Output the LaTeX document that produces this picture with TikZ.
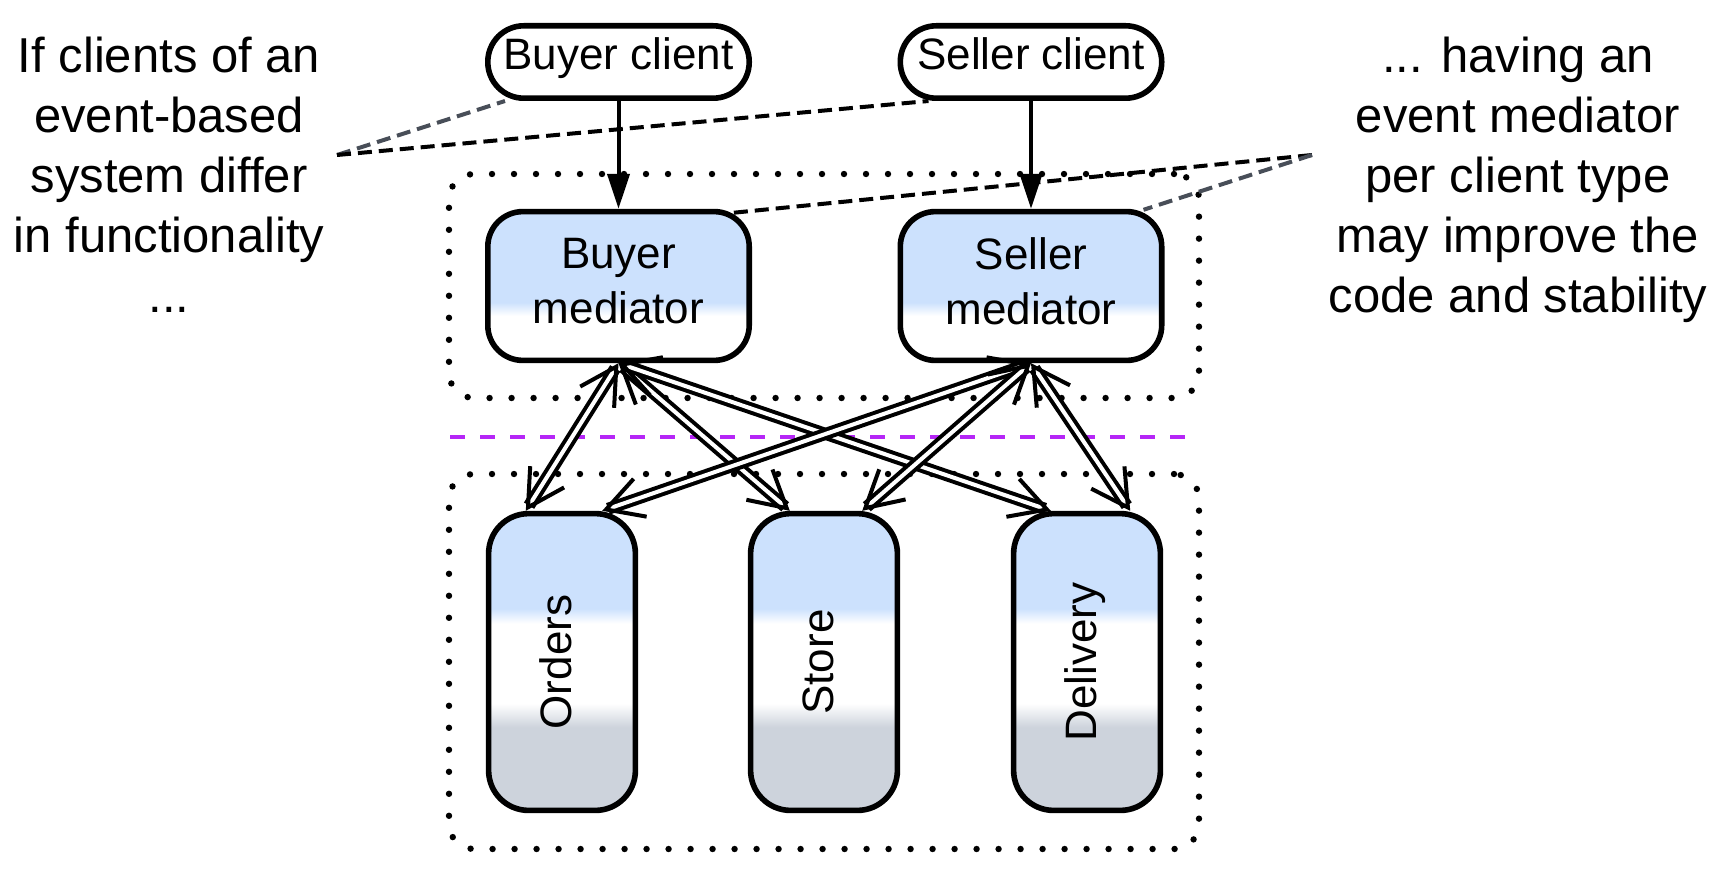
\documentclass[tikz,border=0pt]{standalone}
\usepackage{fontspec}
\setmainfont{Liberation Sans}
\usetikzlibrary{arrows.meta,calc}
\definecolor{boxblue}{RGB}{204,225,253}
\definecolor{boxgray}{RGB}{205,211,220}
\definecolor{notegray}{RGB}{72,78,88}
\definecolor{seppurple}{RGB}{181,38,246}
\pgfdeclareverticalshading{medshade}{100bp}{color(0bp)=(white); color(40bp)=(white); color(44.5bp)=(boxblue); color(100bp)=(boxblue)}
\pgfdeclareverticalshading{svcshade}{100bp}{color(0bp)=(boxgray); color(39bp)=(boxgray); color(43bp)=(white); color(56.5bp)=(white); color(59bp)=(boxblue); color(100bp)=(boxblue)}
\begin{document}
\begin{tikzpicture}[x=0.5pt,y=-0.5pt,
  client/.style={draw, line width=2.8pt, rounded corners=18pt, minimum width=130.7pt, minimum height=36.2pt, inner sep=0pt, fill=white, font=\fontsize{22}{27.5}\selectfont, text height=15.5pt, text depth=7.5pt},
  mediator/.style={draw, line width=2.8pt, rounded corners=17.5pt, minimum width=130.7pt, minimum height=74.4pt, inner sep=0pt, shade, shading=medshade, align=center, font=\fontsize{22}{27.5}\selectfont},
  service/.style={draw, line width=2.8pt, rounded corners=20pt, minimum width=73.4pt, minimum height=148.4pt, inner sep=0pt, shade, shading=svcshade, font=\fontsize{22}{27.5}\selectfont},
  container/.style={draw, line width=3.2pt, line cap=round, dash pattern=on 0pt off 11pt, rounded corners=12.5pt, minimum width=375pt, inner sep=0pt},
  note/.style={align=center, inner sep=0pt, font=\fontsize{24.5}{30}\selectfont},
  conn/.style={line width=2pt, -{Triangle[length=17.5pt,width=11pt]}},
  dbl/.style={line width=2pt, double=white, double distance=2pt, {Straight Barb[length=18pt,width=20pt,line width=2pt]}-{Straight Barb[length=18pt,width=20pt,line width=2pt]}},
  notedash/.style={line width=2pt, dash pattern=on 7pt off 3.5pt},
  sepline/.style={line width=2.4pt, seppurple, dash pattern=on 7.5pt off 7.5pt}
]
\useasboundingbox (0,0) rectangle (1727,872);

% containers
\node[container, minimum height=112pt] (topc) at (824,286) {};
\node[container, minimum height=187.5pt] (botc) at (824,661.5) {};

% separator
\coordinate (sepL) at (450,437);
\coordinate (sepR) at (1200,437);
\draw[sepline] (sepL) -- (sepR);

% clients
\node[client] (bc) at (618.5,62) {Buyer client};
\node[client] (sc) at (1031,62) {Seller client};

% mediators
\node[mediator] (bm) at (618.5,286) {Buyer\\mediator\rule[-5pt]{0pt}{5pt}};
\node[mediator] (sm) at (1031,286) {Seller\\mediator\rule[-5pt]{0pt}{5pt}};

% services
\node[service] (ord) at (562,662) {\rotatebox{90}{\raisebox{0pt}[16pt][7pt]{Orders}}};
\node[service] (sto) at (824,662) {\rotatebox{90}{\raisebox{0pt}[16pt][7pt]{Store}}};
\node[service] (del) at (1087,662) {\rotatebox{90}{\raisebox{0pt}[16pt][7pt]{Delivery}}};

% notes
\node[note] (lt) at (169,175) {If clients of an\\event-based\\system differ\\in functionality\\...};
\node[note] (rt) at (1518,180) {... having an\\event mediator\\per client type\\may improve the\\code and stability};

% client -> mediator
\draw[conn] (bc) -- (bm);
\draw[conn] (sc) -- (sm);

% mediator <-> services
\draw[dbl] (bm.south) -- ($(ord.north west)+(40,0)$);
\draw[dbl] (bm.south) -- ($(sto.north west)+(42,0)$);
\draw[dbl] (bm.south) -- ($(del.north west)+(40,0)$);
\draw[dbl] (sm.south) -- ($(ord.north east)+(-36,0)$);
\draw[dbl] (sm.south) -- ($(sto.north east)+(-38,0)$);
\draw[dbl] (sm.south) -- ($(del.north east)+(-33,0)$);

% annotation lines
\coordinate (lp) at (337,155);
\coordinate (rp) at (1312,155);
\draw[notedash, notegray] (lp) -- ($(bc.south west)+(20,0)$);
\draw[notedash] (lp) -- ($(sc.south west)+(31,0)$);
\draw[notedash] (rp) -- ($(bm.north east)+(-19,4)$);
\draw[notedash, notegray] (rp) -- ($(sm.north east)+(-21,1)$);
\end{tikzpicture}
\end{document}
